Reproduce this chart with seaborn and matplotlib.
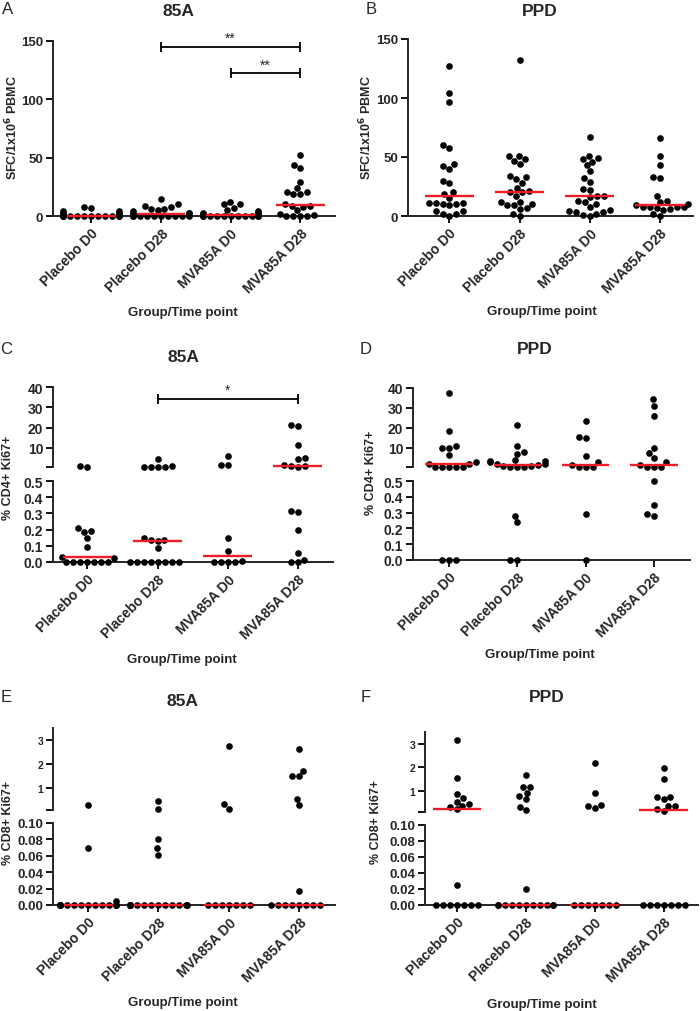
import numpy as np
import pandas as pd
import matplotlib
matplotlib.use("Agg")
import matplotlib.pyplot as plt
import seaborn as sns

groups = ["Placebo D0", "Placebo D28", "MVA85A D0", "MVA85A D28"]

# A: ELISpot 85A (SFC/1x10^6 PBMC)
elispot_85a = [
    [8, 7, 4, 4, 3, 3, 2, 2, 1, 1, 1, 0, 0, 0, 0, 0, 0, 0, 0, 0, 0, 0, 0],
    [15, 10, 9, 8, 6, 6, 5, 4, 3, 3, 2, 2, 1, 1, 0, 0, 0, 0, 0, 0, 0, 0, 0, 0],
    [12, 10, 10, 7, 5, 4, 3, 3, 2, 2, 1, 1, 0, 0, 0, 0, 0, 0, 0, 0, 0, 0, 0],
    [52, 44, 41, 29, 24, 21, 21, 19, 19, 10, 9, 9, 8, 5, 2, 1, 0, 0, 0, 0],
]
# B: ELISpot PPD
elispot_ppd = [
    [127, 104, 97, 60, 58, 44, 42, 40, 30, 28, 20, 19, 15, 11, 11, 11, 10, 10, 9, 4, 4, 2, 2, 0],
    [132, 51, 51, 48, 47, 44, 34, 33, 31, 28, 24, 21, 20, 20, 17, 12, 12, 10, 9, 9, 7, 6, 2, 0],
    [67, 51, 49, 48, 46, 43, 38, 32, 29, 23, 22, 17, 17, 16, 13, 12, 10, 8, 5, 4, 3, 3, 2, 1, 0],
    [66, 51, 43, 33, 32, 17, 13, 12, 10, 9, 8, 8, 8, 8, 7, 6, 5, 2, 0],
]
# C: % CD4+ Ki67+ (85A)
cd4_85a = [
    [1.1, 0.6, 0.21, 0.19, 0.185, 0.15, 0.095, 0.033, 0.025, 0, 0, 0, 0, 0, 0, 0],
    [4.5, 0.7, 0.6, 0.8, 0.6, 0.7, 0.146, 0.136, 0.136, 0.13, 0.085, 0, 0, 0, 0, 0, 0, 0, 0],
    [5.8, 1.3, 1.4, 0.146, 0.066, 0.008, 0, 0, 0, 0],
    [21.0, 20.5, 11.6, 4.8, 4.3, 1.7, 1.2, 1.2, 0.7, 0.317, 0.307, 0.198, 0.054, 0.014, 0, 0],
]
# D: % CD4+ Ki67+ (PPD)
cd4_ppd = [
    [37.5, 18.5, 11.0, 10.2, 10.0, 6.3, 3.0, 2.2, 2.0, 0.6, 0.6, 0.7, 0.6, 0.7, 0, 0, 0],
    [21.6, 11.0, 8.0, 7.1, 3.8, 3.3, 3.3, 2.8, 2.0, 1.8, 1.6, 1.0, 0.8, 0.6, 0.6, 0.6, 0.28, 0.24, 0, 0],
    [23.3, 15.2, 15.5, 6.0, 2.8, 1.7, 0.6, 0.6, 0.6, 0.29, 0],
    [34.3, 31.0, 25.8, 10.0, 7.5, 5.2, 3.0, 1.5, 0.6, 0.6, 0.6, 0.5, 0.35, 0.29, 0.28],
]
# E: % CD8+ Ki67+ (85A)
cd8_85a = [
    [0.29, 0.070, 0.005, 0, 0, 0, 0, 0, 0, 0, 0, 0, 0, 0, 0, 0, 0],
    [0.46, 0.15, 0.080, 0.069, 0.061, 0, 0, 0, 0, 0, 0, 0, 0, 0, 0, 0, 0, 0, 0],
    [2.75, 0.33, 0.14, 0, 0, 0, 0, 0, 0, 0],
    [2.65, 1.51, 1.49, 1.71, 0.57, 0.31, 0.0175, 0, 0, 0, 0, 0, 0, 0, 0],
]
# F: % CD8+ Ki67+ (PPD)
cd8_ppd = [
    [3.15, 1.55, 0.87, 0.68, 0.54, 0.46, 0.37, 0.32, 0.21, 0.025, 0, 0, 0, 0, 0, 0, 0],
    [1.68, 1.17, 1.17, 0.92, 0.76, 0.64, 0.31, 0.17, 0.02, 0, 0, 0, 0, 0, 0, 0, 0, 0, 0, 0],
    [2.18, 0.9, 0.36, 0.39, 0.25, 0, 0, 0, 0, 0, 0, 0],
    [1.96, 1.49, 0.74, 0.65, 0.74, 0.36, 0.36, 0.22, 0.15, 0, 0, 0, 0, 0, 0, 0],
]

sns.set_style("ticks")
plt.rcParams["font.family"] = ["Liberation Sans", "DejaVu Sans"]

W, H = 700, 1012
fig = plt.figure(figsize=(W / 100, H / 100), dpi=100)

DOT = 4.8
RED = "#ee1c25"
LW = 1.4


def add_ax(left, right, top, bottom):
    return fig.add_axes([left / W, 1 - bottom / H, (right - left) / W, (bottom - top) / H])


def to_df(values):
    rows = [(g, v) for g, vals in zip(groups, values) for v in vals]
    return pd.DataFrame(rows, columns=["group", "value"])


def swarm(ax, df):
    sns.swarmplot(data=df, x="group", y="value", order=groups, color="black",
                  size=DOT, linewidth=0, clip_on=False, zorder=3,
                  warn_thresh=1.0, ax=ax)


def style(ax, xlim, bottom=True):
    ax.set_xlim(*xlim)
    for s in ["top", "right"]:
        ax.spines[s].set_visible(False)
    ax.spines["left"].set_linewidth(LW)
    ax.spines["bottom"].set_linewidth(LW)
    ax.tick_params(direction="out", length=5, width=1.3, color="black", pad=2)
    ax.set_xlabel("")
    ax.set_ylabel("")
    if bottom:
        ax.set_xticks(range(len(groups)))
        ax.set_xticklabels(groups, rotation=45, ha="right", va="top",
                           rotation_mode="anchor", fontsize=10, fontweight="bold")
    else:
        ax.spines["bottom"].set_visible(False)
        ax.set_xticks([])
    ax.patch.set_alpha(0)


def median_line(ax, i, m):
    ax.hlines(m, i - 0.35, i + 0.35, color=RED, lw=1.7, zorder=4, clip_on=False)


def single_panel(values, box, xlim, ylim, yticks, fs):
    ax = add_ax(*box)
    swarm(ax, to_df(values))
    ax.set_ylim(*ylim)
    ax.set_yticks(yticks)
    ax.set_yticklabels([str(t) for t in yticks], fontsize=fs, fontweight="bold")
    style(ax, xlim)
    for i, vals in enumerate(values):
        median_line(ax, i, np.median(vals))
    return ax


def broken_panel(values, xl, xr, up, lo, xlim, brk, top,
                 up_ticks, up_labels, lo_ticks, lo_labels, up_fs, lo_fs):
    ax_hi = add_ax(xl, xr, up[0], up[1])
    ax_lo = add_ax(xl, xr, lo[0], lo[1])
    df = to_df(values)
    swarm(ax_hi, df[df.value > brk])
    swarm(ax_lo, df[df.value <= brk])
    ax_hi.set_ylim(brk, top)
    ax_lo.set_ylim(0, brk)
    ax_hi.set_yticks(up_ticks)
    ax_hi.set_yticklabels(up_labels, fontsize=up_fs, fontweight="bold")
    ax_lo.set_yticks(lo_ticks)
    ax_lo.set_yticklabels(lo_labels, fontsize=lo_fs, fontweight="bold")
    style(ax_hi, xlim, bottom=False)
    style(ax_lo, xlim, bottom=True)
    for i, vals in enumerate(values):
        m = np.median(vals)
        median_line(ax_hi if m > brk else ax_lo, i, m)
    return ax_hi, ax_lo


def bracket(ax, i, j, y, h, label, ty):
    ax.plot([i, j], [y, y], color="black", lw=1.3, clip_on=False)
    ax.vlines([i, j], y - h, y + h, color="black", lw=1.3, clip_on=False)
    ax.text((i + j) / 2, ty, label, ha="center", va="center", fontsize=10, clip_on=False)


def ftext(x, y, s, **kw):
    fig.text(x / W, 1 - y / H, s, ha="center", va="center", **kw)


# ---- A ----
axA = single_panel(elispot_85a, (53, 335, 42, 217), (-0.55, 3.5), (0, 150), [0, 50, 100, 150], 9.5)
bracket(axA, 1, 3, 145, 4.3, "**", 152.5)
bracket(axA, 2, 3, 122.5, 4.3, "**", 129.5)
# ---- B ----
axB = single_panel(elispot_ppd, (408, 693, 40, 217), (-0.59, 3.47), (0, 150), [0, 50, 100, 150], 9.5)

# ---- C ----
cd4_up_ticks = [0.5, 10, 20, 30, 40]
cd4_up_labels = ["", "10", "20", "30", "40"]
cd4_lo_ticks = [0, 0.1, 0.2, 0.3, 0.4, 0.5]
cd4_lo_labels = ["0.0", "0.1", "0.2", "0.3", "0.4", "0.5"]
axC_hi, axC_lo = broken_panel(cd4_85a, 53, 333, (388, 468), (482, 563), (-0.49, 3.5), 0.5, 40,
                              cd4_up_ticks, cd4_up_labels, cd4_lo_ticks, cd4_lo_labels, 10, 10)
bracket(axC_hi, 1, 3, 34.2, 2.5, "*", 38.8)
# ---- D ----
broken_panel(cd4_ppd, 413, 690, (389, 468), (482, 561), (-0.53, 3.53), 0.5, 40,
             cd4_up_ticks, cd4_up_labels, cd4_lo_ticks, cd4_lo_labels, 10, 10)

# ---- E ----
cd8_up_ticks = [0.1, 1, 2, 3]
cd8_up_labels = ["", "1", "2", "3"]
cd8_lo_ticks = [0, 0.02, 0.04, 0.06, 0.08, 0.10]
cd8_lo_labels = ["0.00", "0.02", "0.04", "0.06", "0.08", "0.10"]
broken_panel(cd8_85a, 53, 335, (729, 811), (824, 906), (-0.5, 3.51), 0.1, 3.5,
             cd8_up_ticks, cd8_up_labels, cd8_lo_ticks, cd8_lo_labels, 7.5, 9.5)
# ---- F ----
broken_panel(cd8_ppd, 425, 698, (733, 813), (826, 906), (-0.46, 3.5), 0.1, 3.5,
             cd8_up_ticks, cd8_up_labels, cd8_lo_ticks, cd8_lo_labels, 7.5, 9.5)

# ---- texts ----
for x, y, s in [(8, 9, "A"), (371, 9, "B"), (6, 350, "C"), (366, 350, "D"), (6, 697, "E"), (366, 698, "F")]:
    ftext(x, y, s, fontsize=12)
for x, y, s in [(178, 11, "85A"), (540, 11, "PPD"), (183, 357, "85A"), (535, 350, "PPD"),
                (182, 702, "85A"), (547, 698, "PPD")]:
    ftext(x, y, s, fontsize=12.5, fontweight="bold")
for x, y in [(183, 313), (542, 312), (182, 660), (540, 655), (183, 1003), (542, 1005)]:
    ftext(x, y, "Group/Time point", fontsize=9.5, fontweight="bold")
ylab_sfc = "SFC/1x10$^{\\mathbf{6}}$ PBMC"
for x, y, s in [(12, 128, ylab_sfc), (366, 128, ylab_sfc),
                (8, 478, "% CD4+ Ki67+"), (371, 473, "% CD4+ Ki67+"),
                (8, 823, "% CD8+ Ki67+"), (376, 822, "% CD8+ Ki67+")]:
    ftext(x, y, s, fontsize=9, fontweight="bold", rotation=90)

fig.savefig("out.png", dpi=100)
